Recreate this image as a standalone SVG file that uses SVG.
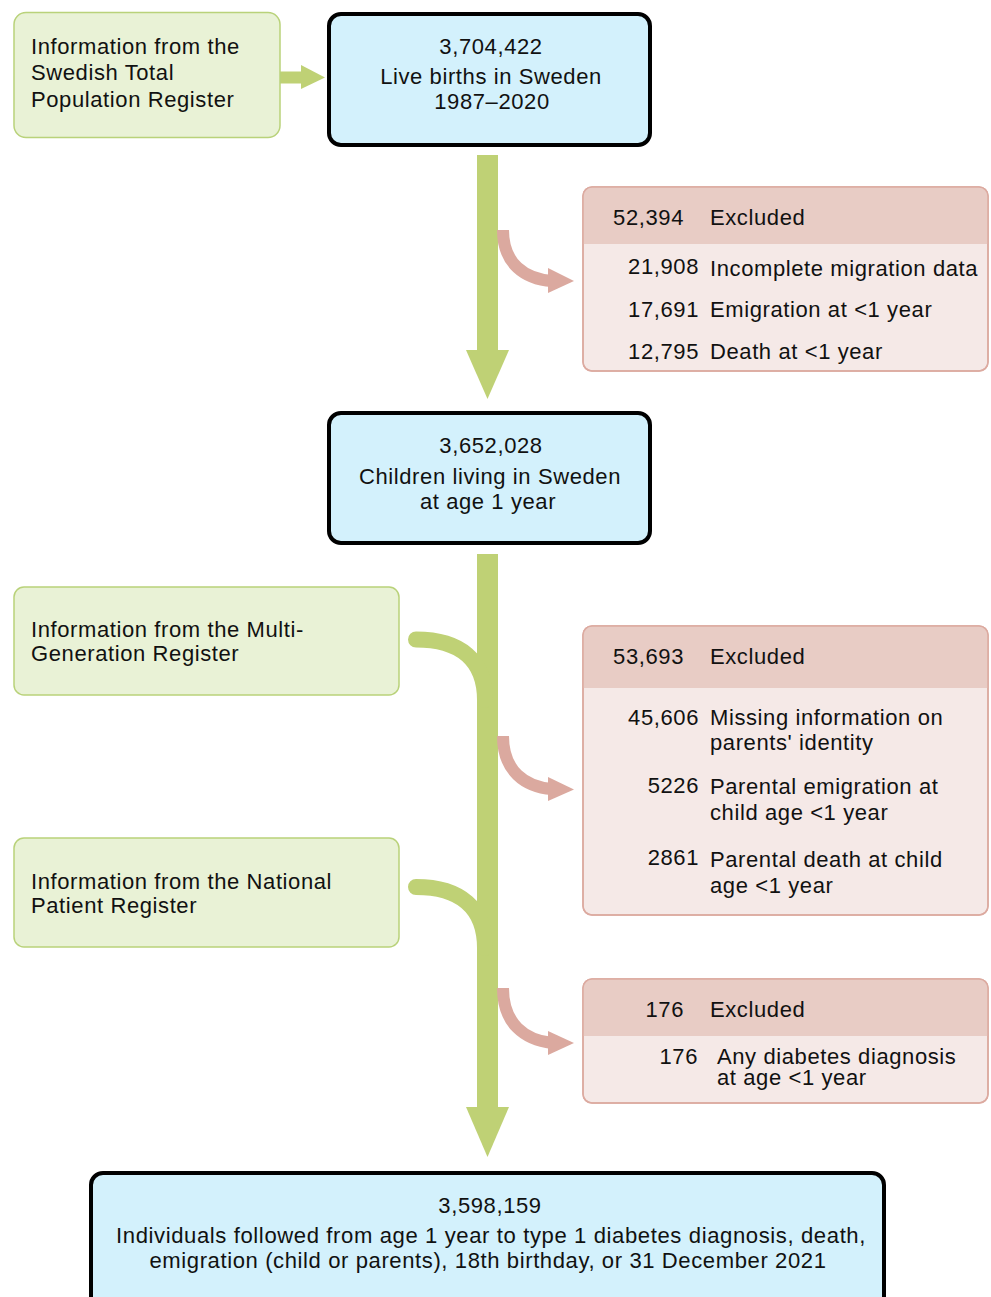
<svg xmlns="http://www.w3.org/2000/svg" width="991" height="1297" viewBox="0 0 991 1297">
<style>
text{font-family:"Liberation Sans",Arial,sans-serif;font-size:22px;fill:#111;letter-spacing:0.6px}
.c{text-anchor:middle}
.e{text-anchor:end}
.src{fill:#e9f2d6;stroke:#b9d27a;stroke-width:1.5}
.main{fill:#d3f1fc;stroke:#000;stroke-width:4}
.exb{fill:#f5e9e7;stroke:#dcaaa0;stroke-width:1.5}
.exh{fill:#e8ccc5}
.gs{fill:#bfd175}
.gc{fill:none;stroke:#bfd175;stroke-width:16;stroke-linecap:round}
.pc{fill:none;stroke:#dba99f;stroke-width:12}
.ph{fill:#dba99f}
</style>
<defs>
<clipPath id="cp1"><rect x="583" y="187" width="405" height="184" rx="9"/></clipPath>
<clipPath id="cp2"><rect x="583" y="626" width="405" height="289" rx="9"/></clipPath>
<clipPath id="cp3"><rect x="583" y="979" width="405" height="124" rx="9"/></clipPath>
</defs>

<g id="connectors">
<rect class="gs" x="280" y="71.5" width="24" height="12"/>
<polygon class="gs" points="301,65 325,77.5 301,89"/>
<rect class="gs" x="477" y="155" width="21" height="196"/>
<polygon class="gs" points="466,350 509,350 487.5,399"/>
<rect class="gs" x="477" y="554" width="21" height="555"/>
<polygon class="gs" points="466,1107 509,1107 487.5,1157"/>
<path class="gc" d="M416,639.5 C460,639.5 485,660 485,700"/>
<path class="gc" d="M416,887 C460,887 485,908 485,948"/>
<path class="pc" d="M503,230 C503,264 525,279 552,281"/>
<polygon class="ph" points="548,268 574,281 548,293"/>
<path class="pc" d="M503,736 C503,771 525,787 552,789"/>
<polygon class="ph" points="548,777 574,789.5 548,801"/>
<path class="pc" d="M503,988 C503,1024 525,1040 552,1043"/>
<polygon class="ph" points="548,1031 574,1043 548,1055"/>
</g>

<g id="src1">
<rect class="src" x="14" y="12.5" width="266" height="125" rx="12"/>
<text x="31" y="54">Information from the</text>
<text x="31" y="80">Swedish Total</text>
<text x="31" y="107">Population Register</text>
</g>

<g id="main1">
<rect class="main" x="329" y="14" width="321" height="131" rx="12"/>
<text class="c" x="491" y="54">3,704,422</text>
<text class="c" x="491" y="84">Live births in Sweden</text>
<text class="c" x="492" y="109">1987–2020</text>
</g>

<g id="excl1">
<rect class="exb" x="583" y="187" width="405" height="184" rx="9"/>
<rect class="exh" x="583" y="187" width="405" height="57" clip-path="url(#cp1)"/>
<rect x="583" y="187" width="405" height="184" rx="9" fill="none" stroke="#dcaaa0" stroke-width="1.5"/>
<text class="e" x="684" y="225">52,394</text>
<text x="710" y="225">Excluded</text>
<text class="e" x="699" y="274">21,908</text>
<text x="710" y="276">Incomplete migration data</text>
<text class="e" x="699" y="317">17,691</text>
<text x="710" y="317">Emigration at &lt;1 year</text>
<text class="e" x="699" y="359">12,795</text>
<text x="710" y="359">Death at &lt;1 year</text>
</g>

<g id="main2">
<rect class="main" x="329" y="413" width="321" height="130" rx="12"/>
<text class="c" x="491" y="453">3,652,028</text>
<text class="c" x="490" y="484">Children living in Sweden</text>
<text class="c" x="488" y="509">at age 1 year</text>
</g>

<g id="src2">
<rect class="src" x="14" y="587" width="385" height="108" rx="10"/>
<text x="31" y="637">Information from the Multi-</text>
<text x="31" y="661">Generation Register</text>
</g>

<g id="excl2">
<rect class="exb" x="583" y="626" width="405" height="289" rx="9"/>
<rect class="exh" x="583" y="626" width="405" height="62" clip-path="url(#cp2)"/>
<rect x="583" y="626" width="405" height="289" rx="9" fill="none" stroke="#dcaaa0" stroke-width="1.5"/>
<text class="e" x="684" y="664">53,693</text>
<text x="710" y="664">Excluded</text>
<text class="e" x="699" y="725">45,606</text>
<text x="710" y="725">Missing information on</text>
<text x="710" y="750">parents' identity</text>
<text class="e" x="699" y="793">5226</text>
<text x="710" y="794">Parental emigration at</text>
<text x="710" y="820">child age &lt;1 year</text>
<text class="e" x="699" y="865">2861</text>
<text x="710" y="867">Parental death at child</text>
<text x="710" y="893">age &lt;1 year</text>
</g>

<g id="src3">
<rect class="src" x="14" y="838" width="385" height="109" rx="10"/>
<text x="31" y="889">Information from the National</text>
<text x="31" y="913">Patient Register</text>
</g>

<g id="excl3">
<rect class="exb" x="583" y="979" width="405" height="124" rx="9"/>
<rect class="exh" x="583" y="979" width="405" height="57" clip-path="url(#cp3)"/>
<rect x="583" y="979" width="405" height="124" rx="9" fill="none" stroke="#dcaaa0" stroke-width="1.5"/>
<text class="e" x="684" y="1017">176</text>
<text x="710" y="1017">Excluded</text>
<text class="e" x="698" y="1064">176</text>
<text x="717" y="1064">Any diabetes diagnosis</text>
<text x="717" y="1085">at age &lt;1 year</text>
</g>

<g id="main3">
<rect class="main" x="91" y="1173" width="793" height="140" rx="12"/>
<text class="c" x="490" y="1213">3,598,159</text>
<text class="c" x="491" y="1243" textLength="750" lengthAdjust="spacingAndGlyphs">Individuals followed from age 1 year to type 1 diabetes diagnosis, death,</text>
<text class="c" x="488" y="1268" textLength="677" lengthAdjust="spacingAndGlyphs">emigration (child or parents), 18th birthday, or 31 December 2021</text>
</g>
</svg>
